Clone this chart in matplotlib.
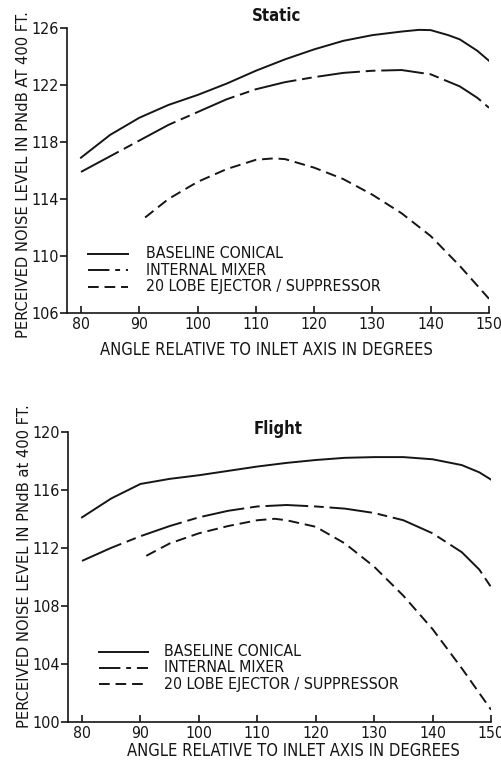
import matplotlib.pyplot as plt

plt.rcParams["font.family"] = ["DejaVu Sans"]
plt.rcParams["font.stretch"] = "condensed"

INK = "#151515"

# ---- data ----
angles_ticks = [80, 90, 100, 110, 120, 130, 140, 150]

static_base_x = [80, 85, 90, 95, 100, 105, 110, 115, 120, 125, 130, 135, 138, 140, 143, 145, 148, 150]
static_base_y = [116.9, 118.5, 119.7, 120.6, 121.3, 122.1, 123.0, 123.8, 124.5, 125.1, 125.5,
                 125.75, 125.87, 125.85, 125.5, 125.2, 124.4, 123.7]

static_mix_x = [80, 85, 90, 95, 100, 105, 110, 115, 120, 125, 130, 135, 140, 145, 148, 150]
static_mix_y = [115.9, 117.0, 118.1, 119.2, 120.1, 121.0, 121.7, 122.2, 122.55, 122.85, 123.0,
                123.05, 122.75, 121.9, 121.1, 120.4]

static_ej_x = [91, 95, 100, 105, 110, 113, 115, 120, 125, 130, 135, 140, 145, 150]
static_ej_y = [112.7, 114.0, 115.2, 116.1, 116.75, 116.85, 116.8, 116.2, 115.4, 114.3, 113.0,
               111.4, 109.3, 107.0]

flight_base_x = [80, 85, 90, 95, 100, 105, 110, 115, 120, 125, 130, 135, 140, 145, 148, 150]
flight_base_y = [114.1, 115.4, 116.4, 116.75, 117.0, 117.3, 117.6, 117.85, 118.05, 118.2, 118.25,
                 118.25, 118.1, 117.7, 117.2, 116.7]

flight_mix_x = [80, 85, 90, 95, 100, 105, 110, 115, 120, 125, 130, 135, 140, 145, 148, 150]
flight_mix_y = [111.1, 112.0, 112.8, 113.5, 114.1, 114.55, 114.85, 114.95, 114.85, 114.7, 114.4,
                113.9, 113.0, 111.7, 110.5, 109.3]

flight_ej_x = [91, 95, 100, 105, 110, 113, 115, 120, 125, 130, 135, 140, 145, 150]
flight_ej_y = [111.45, 112.3, 113.0, 113.5, 113.9, 114.0, 113.9, 113.45, 112.3, 110.7, 108.7,
               106.4, 103.7, 100.85]

legend_labels = ["BASELINE CONICAL", "INTERNAL MIXER", "20 LOBE EJECTOR / SUPPRESSOR"]

LW = 1.4
SOLID = "-"
MIXER = (0, (22, 3, 5, 3))
EJECT = (0, (5.5, 3))
MIXER_KEY = (0, (11, 3, 2.5, 3))


def style_axes(ax, yticks):
    ax.set_xlim(77.6, 150)
    ax.set_ylim(yticks[0], yticks[-1])
    ax.spines["top"].set_visible(False)
    ax.spines["right"].set_visible(False)
    for s in ("left", "bottom"):
        ax.spines[s].set_color(INK)
        ax.spines[s].set_linewidth(1.2)
    ax.set_xticks(angles_ticks)
    ax.set_yticks(yticks)
    ax.tick_params(axis="x", direction="in", length=5, width=1.2, colors=INK,
                   labelsize=11.3, pad=3)
    ax.tick_params(axis="y", direction="out", length=5, width=1.2, colors=INK,
                   labelsize=11.5, pad=1)
    ax.patch.set_alpha(0)


def draw_legend(fig, x0, x1, xt, ys):
    styles = [SOLID, MIXER_KEY, EJECT]
    for st, lab, y in zip(styles, legend_labels, ys):
        fy = 1 - y / 765
        fig.add_artist(plt.Line2D([x0 / 502, x1 / 502], [fy, fy], color=INK, lw=LW, ls=st))
        fig.text(xt / 502, fy, lab, ha="left", va="center", fontsize=11.4, color=INK)


fig = plt.figure(figsize=(5.02, 7.65), dpi=100)

# ---- Static ----
ax1 = fig.add_axes([67 / 502, 1 - 313 / 765, 422 / 502, 285 / 765])
ax1.plot(static_base_x, static_base_y, color=INK, lw=LW, ls=SOLID)
ax1.plot(static_mix_x, static_mix_y, color=INK, lw=LW, ls=MIXER)
ax1.plot(static_ej_x, static_ej_y, color=INK, lw=LW, ls=EJECT)
style_axes(ax1, [106, 110, 114, 118, 122, 126])
fig.text(277 / 502, 1 - 16 / 765, "Static", ha="center", va="center",
         fontsize=12, fontweight="bold", color=INK)
fig.text(266 / 502, 1 - 350 / 765, "ANGLE RELATIVE TO INLET AXIS IN DEGREES",
         ha="center", va="center", fontsize=11.9, color=INK)
fig.text(24 / 502, 1 - 175 / 765, "PERCEIVED NOISE LEVEL IN PNdB AT 400 FT.",
         ha="center", va="center", rotation=90, fontsize=11.8, color=INK)
draw_legend(fig, 88, 128, 146, [254, 270, 287])

# ---- Flight ----
ax2 = fig.add_axes([68 / 502, 1 - 722 / 765, 423 / 502, 290.3 / 765])
ax2.plot(flight_base_x, flight_base_y, color=INK, lw=LW, ls=SOLID)
ax2.plot(flight_mix_x, flight_mix_y, color=INK, lw=LW, ls=MIXER)
ax2.plot(flight_ej_x, flight_ej_y, color=INK, lw=LW, ls=EJECT)
style_axes(ax2, [100, 104, 108, 112, 116, 120])
fig.text(278 / 502, 1 - 429 / 765, "Flight", ha="center", va="center",
         fontsize=12, fontweight="bold", color=INK)
fig.text(293 / 502, 1 - 751 / 765, "ANGLE RELATIVE TO INLET AXIS IN DEGREES",
         ha="center", va="center", fontsize=11.9, color=INK)
fig.text(25 / 502, 1 - 566 / 765, "PERCEIVED NOISE LEVEL IN PNdB at 400 FT.",
         ha="center", va="center", rotation=90, fontsize=11.8, color=INK)
draw_legend(fig, 99, 148, 164, [652, 668, 684])

fig.savefig("out.png", dpi=100)
